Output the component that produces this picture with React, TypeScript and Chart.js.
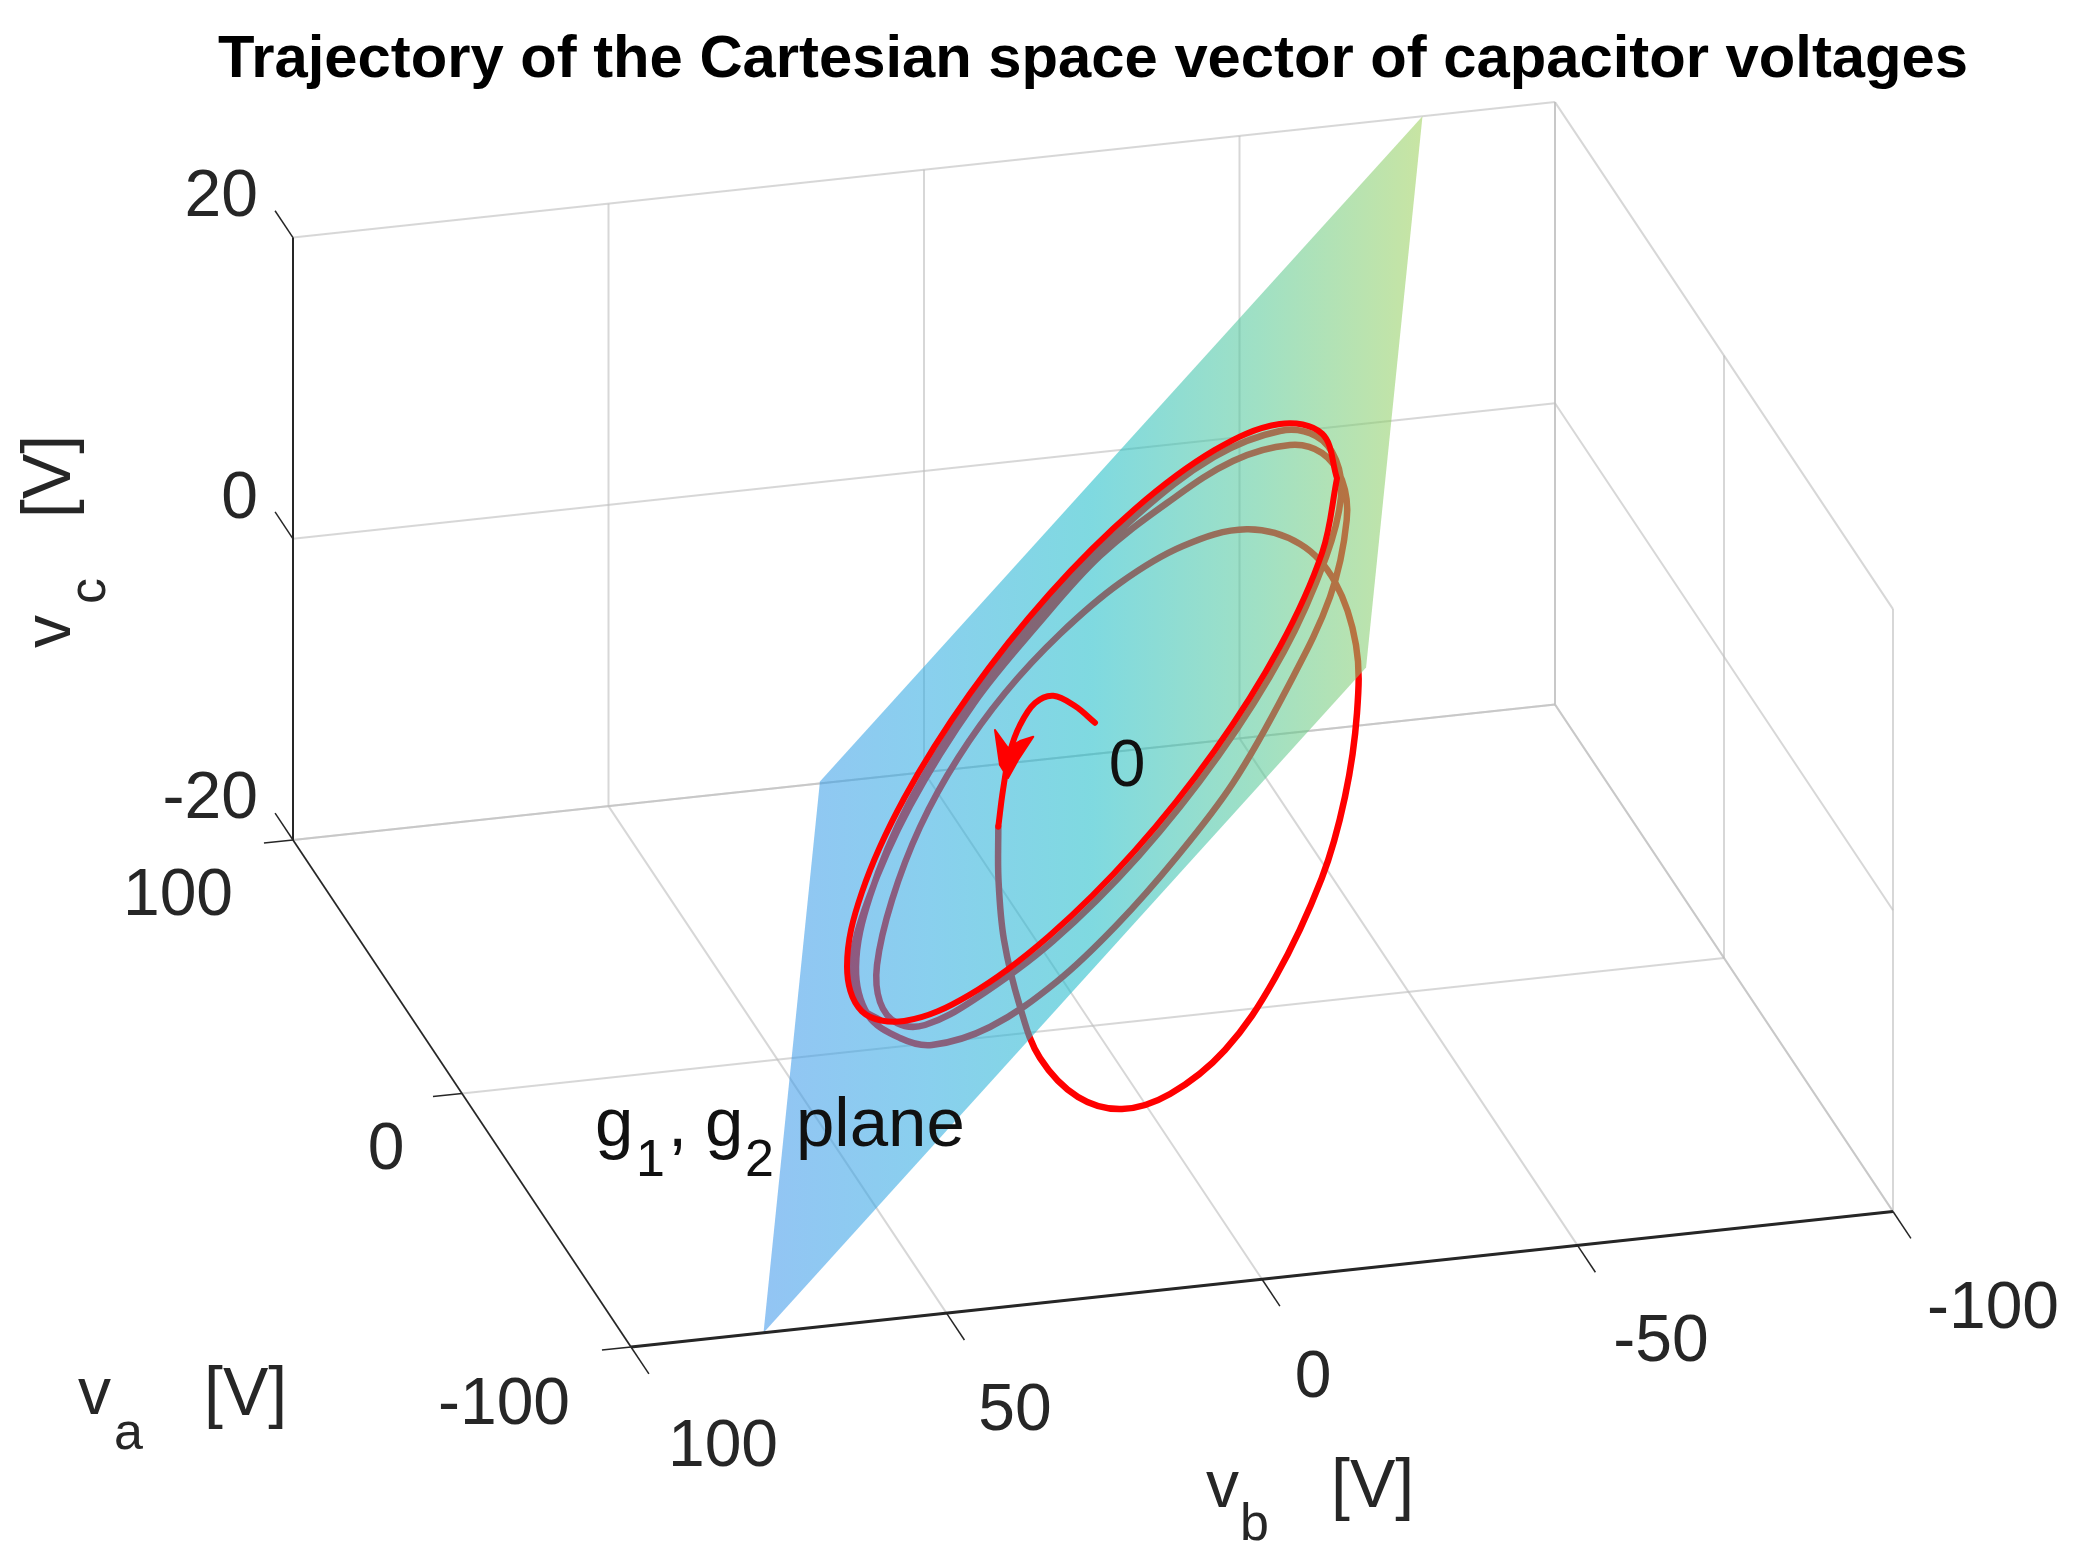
import React, { useEffect, useRef } from "react";
import { Chart, registerables } from "chart.js";

Chart.register(...registerables);

const CANVAS_W = 2085;
const CANVAS_H = 1560;

const title = "Trajectory of the Cartesian space vector of capacitor voltages";

// axis ticks (volts)
const vaTicks = [100, 0, -100];
const vbTicks = [100, 50, 0, -50, -100];
const vcTicks = [-20, 0, 20];

// g1,g2 plane corners (volts)
const planeVa = [-100, -49, 100, 49, -100];
const planeVb = [79, 56.4, -79, -56.4, 79];
const planeVc = [-20, 7, 20, -7, -20];

// trajectory, read as view-plane coordinates of the projected 3D picture
const hook = [
  [1095, 722.7], [1075, 706], [1053.3, 695.7], [1035, 703], [1020, 725], [1010, 752], [1003, 790],
  [998.3, 826.7],
];
const arrowHead = [
  [995, 730], [1008, 748], [1020, 741], [1033.3, 736.7], [1018, 760], [1008, 778], [1000, 765], [995, 730],
];
const transient = [
  [998.3, 826.7], [998.5, 880], [1004, 940], [1020, 1006.7], [1040, 1058], [1078, 1097],
  [1122, 1109], [1170, 1094], [1225, 1050], [1275, 978], [1321.7, 878.3], [1345, 796.7],
  [1357, 713], [1356, 645], [1335, 582], [1300, 544], [1246.7, 529.3], [1183, 546], [1120, 583],
  [1060, 634], [1005, 693], [958, 758], [920, 827], [892, 900], [877, 965], [880, 1002], [897, 1023],
  [925, 1025], [973.5, 1000], [1053, 941], [1138.6, 856], [1218.5, 755.7], [1283.7, 652], [1326, 557],
  [1341, 497], [1336, 460], [1316, 436], [1280, 431], [1214, 457], [1136, 516], [1052, 599], [973, 699], [909, 803],
  [870, 896], [856, 967], [868, 1015], [900, 1038], [932, 1045], [990, 1027], [1056.7, 981.7],
  [1116.7, 925], [1176.7, 857], [1233, 783], [1286.7, 689], [1330, 597], [1346.7, 520], [1342, 480],
  [1322, 453], [1290, 445], [1233, 461], [1167, 503], [1100, 556], [1040, 622], [974, 703], [910, 806], [868, 900],
  [851, 967], [858, 1005], [880, 1020],
];
const limitCycle = [
  [1337, 478.4], [1322.2, 433.8], [1279.7, 424], [1214.5, 450.2], [1134.6, 509.3], [1049.4, 594],
  [969.5, 694.3], [904.3, 798], [861.8, 892.6], [847, 966.6], [861.8, 1011.2], [904.3, 1021],
  [969.5, 994.8], [1049.4, 935.7], [1134.6, 851], [1214.5, 750.7], [1279.7, 647], [1322.2, 552.4],
  [1337, 478.4],
];

// orthographic view of the box: volts -> view-plane coordinates
function project(va: number, vb: number, vc: number) {
  const u = (100 - vb) / 200;
  const w = (100 - va) / 200;
  return {
    x: 293 + 1262 * u + 338 * w,
    y: 840 - (vc + 20) * 15.06 - 135.5 * u + 507 * w,
  };
}

const GRID = "rgba(190,190,190,0.62)";
const AXIS = "#262626";
const TEXT = "#262626";
const RED = "#ff0000";
const FONT = '"Liberation Sans", Arial, sans-serif';

function seg(from: number[], to: number[], color = GRID, width = 2) {
  return {
    data: [project(from[0], from[1], from[2]), project(to[0], to[1], to[2])],
    showLine: true,
    borderColor: color,
    borderWidth: width,
    pointRadius: 0,
    tension: 0,
    fill: false,
  };
}

function curve(points: number[][], color: string, width: number, tension = 0.36) {
  return {
    data: points.map(([x, y]) => ({ x, y })),
    showLine: true,
    borderColor: color,
    borderWidth: width,
    pointRadius: 0,
    tension,
    fill: false,
    borderCapStyle: "round",
    borderJoinStyle: "round",
  };
}

function buildDatasets() {
  const ds: any[] = [];
  const vaEnd = vaTicks[0];
  const vaFront = vaTicks[vaTicks.length - 1];
  const vbEnd = vbTicks[0];
  const vbRight = vbTicks[vbTicks.length - 1];
  const vcLow = vcTicks[0];
  const vcHigh = vcTicks[vcTicks.length - 1];

  // grid on the back walls and the floor
  vcTicks.forEach((vc) => {
    ds.push(seg([vaEnd, vbEnd, vc], [vaEnd, vbRight, vc]));
    ds.push(seg([vaEnd, vbRight, vc], [vaFront, vbRight, vc]));
  });
  vbTicks.forEach((vb) => {
    ds.push(seg([vaEnd, vb, vcLow], [vaEnd, vb, vcHigh]));
    ds.push(seg([vaEnd, vb, vcLow], [vaFront, vb, vcLow]));
  });
  vaTicks.forEach((va) => {
    ds.push(seg([va, vbRight, vcLow], [va, vbRight, vcHigh]));
    ds.push(seg([va, vbEnd, vcLow], [va, vbRight, vcLow]));
  });

  // trajectory below the translucent plane
  ds.push(curve(transient, RED, 6.5));

  // translucent plane
  ds.push({
    data: planeVa.map((va, i) => project(va, planeVb[i], planeVc[i])),
    showLine: true,
    borderWidth: 0,
    borderColor: "rgba(0,0,0,0)",
    pointRadius: 0,
    tension: 0,
    fill: "shape",
    backgroundColor: (ctx: any) => {
      const chart = ctx.chart;
      const sx = chart.scales && chart.scales.x;
      const fallback = "rgba(27,185,200,0.56)";
      if (!sx) return fallback;
      const a = sx.getPixelForValue(760);
      const b = sx.getPixelForValue(1425);
      if (!Number.isFinite(a) || !Number.isFinite(b)) return fallback;
      const g = chart.ctx.createLinearGradient(a, 0, b, 0);
      g.addColorStop(0, "rgba(62,150,235,0.56)");
      g.addColorStop(0.25, "rgba(45,170,225,0.56)");
      g.addColorStop(0.5, "rgba(27,188,200,0.56)");
      g.addColorStop(0.75, "rgba(85,200,150,0.56)");
      g.addColorStop(1, "rgba(158,208,90,0.56)");
      return g;
    },
  });

  // trajectory above the plane
  ds.push(curve(limitCycle, RED, 6));
  ds.push(curve(hook, RED, 6));
  ds.push({
    ...curve(arrowHead, RED, 2, 0),
    fill: "shape",
    backgroundColor: RED,
  });

  // black axes and ticks
  ds.push(seg([vaEnd, vbEnd, vcLow], [vaEnd, vbEnd, vcHigh], AXIS, 2));
  ds.push(seg([vaEnd, vbEnd, vcLow], [vaFront, vbEnd, vcLow], AXIS, 1.6));
  ds.push(seg([vaFront, vbEnd, vcLow], [vaFront, vbRight, vcLow], AXIS, 3));
  vcTicks.forEach((vc) => ds.push(seg([vaEnd, vbEnd, vc], [110.6, vbEnd, vc], AXIS, 1.5)));
  vbTicks.forEach((vb) => ds.push(seg([vaFront, vb, vcLow], [-110.6, vb, vcLow], AXIS, 1.5)));
  vaTicks.forEach((va) => ds.push(seg([va, vbEnd, vcLow], [va, 104.6, vcLow], AXIS, 1.5)));

  return ds.reverse(); // Chart.js paints the first dataset last
}

// text anchors in view-plane coordinates
const vcTickLabels = [
  { t: "20", x: 258, y: 198 },
  { t: "0", x: 258, y: 500 },
  { t: "-20", x: 258, y: 800 },
];
const vaTickLabels = [
  { t: "100", x: 178, y: 897 },
  { t: "0", x: 386, y: 1151 },
  { t: "-100", x: 504, y: 1406 },
];
const vbTickLabels = [
  { t: "100", x: 723, y: 1448 },
  { t: "50", x: 1015, y: 1412 },
  { t: "0", x: 1313, y: 1379 },
  { t: "-50", x: 1661, y: 1343 },
  { t: "-100", x: 1993, y: 1310 },
];

const textPlugin = {
  id: "textPlugin",
  afterDatasetsDraw(chart: any) {
    const c = chart.ctx;
    const X = (v: number) => chart.scales.x.getPixelForValue(v);
    const Y = (v: number) => chart.scales.y.getPixelForValue(v);
    const put = (t: string, x: number, y: number, size: number, color = TEXT, align: CanvasTextAlign = "left", base: CanvasTextBaseline = "alphabetic") => {
      c.font = `${size}px ${FONT}`;
      c.fillStyle = color;
      c.textAlign = align;
      c.textBaseline = base;
      c.fillText(t, X(x), Y(y));
    };
    c.save();

    c.font = `bold 60px ${FONT}`;
    c.fillStyle = "#000";
    c.textAlign = "center";
    c.textBaseline = "middle";
    c.fillText(title, X(1093), Y(60), 1750);

    vcTickLabels.forEach((l) => put(l.t, l.x, l.y, 66, TEXT, "right", "middle"));
    vaTickLabels.forEach((l) => put(l.t, l.x, l.y, 66, TEXT, "center", "middle"));
    vbTickLabels.forEach((l) => put(l.t, l.x, l.y, 66, TEXT, "center", "middle"));

    // axis names
    put("v", 78, 1414, 66);
    put("a", 114, 1449, 52);
    put("[V]", 204, 1415, 68);
    put("v", 1206, 1507, 66);
    put("b", 1240, 1540, 52);
    put("[V]", 1331, 1507, 68);

    c.save();
    c.translate(X(70), Y(0));
    c.rotate(-Math.PI / 2);
    c.fillStyle = TEXT;
    c.textAlign = "left";
    c.textBaseline = "alphabetic";
    c.font = `66px ${FONT}`;
    c.fillText("v", -648, 0);
    c.font = `68px ${FONT}`;
    c.fillText("[V]", -518, 0);
    c.font = `52px ${FONT}`;
    c.fillText("c", -604, 35);
    c.restore();

    // annotations
    put("g", 595, 1146, 69, "#111");
    put("1", 636, 1176, 52, "#111");
    put(",", 668, 1146, 69, "#111");
    put("g", 705, 1146, 69, "#111");
    put("2", 745, 1176, 52, "#111");
    put("plane", 796, 1146, 69, "#111");
    put("0", 1127, 768, 66, "#111", "center", "middle");

    c.restore();
  },
};

export default function App() {
  const ref = useRef<HTMLCanvasElement>(null);
  useEffect(() => {
    const chart = new Chart(ref.current!, {
      type: "scatter",
      data: { datasets: buildDatasets() },
      options: {
        animation: false,
        responsive: false,
        events: [],
        layout: { padding: 0 },
        plugins: { legend: { display: false }, tooltip: { enabled: false }, title: { display: false } },
        scales: {
          x: { type: "linear", min: 0, max: CANVAS_W, display: false },
          y: { type: "linear", min: 0, max: CANVAS_H, reverse: true, display: false },
        },
      },
      plugins: [textPlugin],
    } as any);
    return () => chart.destroy();
  }, []);
  return (
    <canvas
      ref={ref}
      width={CANVAS_W}
      height={CANVAS_H}
      style={{ position: "absolute", left: 0, top: 0, display: "block", background: "#fff" }}
    />
  );
}
